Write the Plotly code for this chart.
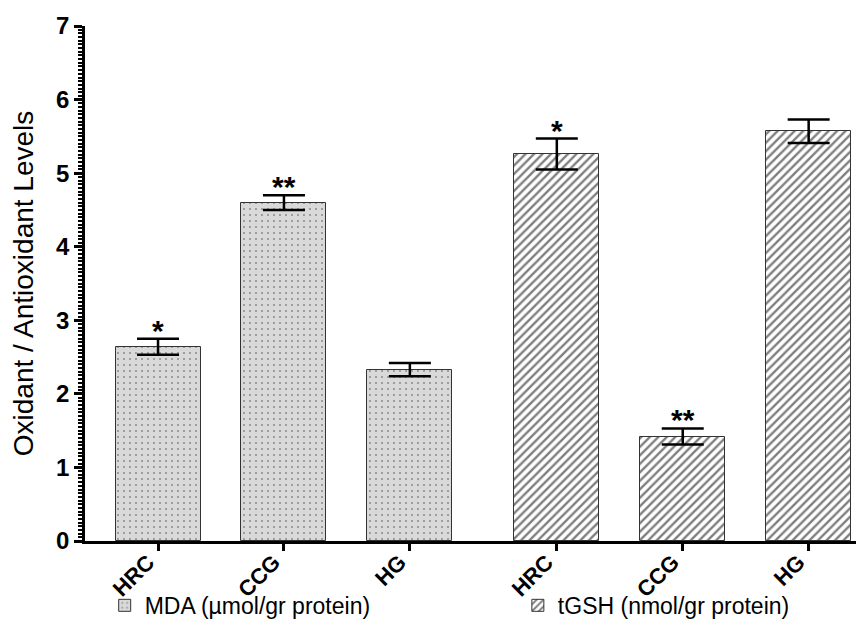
import plotly.graph_objects as go

groups = ["HRC", "CCG", "HG"]
mda_values = [2.64, 4.60, 2.33]
mda_errors = [0.11, 0.10, 0.09]
mda_marks = ["*", "**", ""]
tgsh_values = [5.26, 1.42, 5.57]
tgsh_errors = [0.21, 0.11, 0.16]
tgsh_marks = ["*", "**", ""]
mda_pos = [0, 1, 2]
tgsh_pos = [3.167, 4.167, 5.167]
y_ticks = [0, 1, 2, 3, 4, 5, 6, 7]

FONT = "Arial, Liberation Sans, Helvetica, sans-serif"

fig = go.Figure()
fig.add_trace(go.Bar(
    x=mda_pos, y=mda_values, width=0.675,
    name="MDA (µmol/gr protein)", legend="legend",
    marker=dict(color="#d9d9d9",
                line=dict(color="#333333", width=1),
                pattern=dict(shape=".", fgcolor="#444444", bgcolor="#d9d9d9",
                             size=6, solidity=0.1, fillmode="overlay")),
    error_y=dict(type="data", array=mda_errors, visible=True,
                 color="black", thickness=2.5, width=21),
))
fig.add_trace(go.Bar(
    x=tgsh_pos, y=tgsh_values, width=0.675,
    name="tGSH (nmol/gr protein)", legend="legend2",
    marker=dict(color="white",
                line=dict(color="#333333", width=1),
                pattern=dict(shape="/", fgcolor="black", bgcolor="white",
                             size=6, solidity=0.4, fillmode="overlay")),
    error_y=dict(type="data", array=tgsh_errors, visible=True,
                 color="black", thickness=2.5, width=21),
))

annotations = []
for pos, v, e, m in list(zip(mda_pos, mda_values, mda_errors, mda_marks)) + \
        list(zip(tgsh_pos, tgsh_values, tgsh_errors, tgsh_marks)):
    if m:
        annotations.append(dict(x=pos, y=v + e, text="<b>%s</b>" % m, showarrow=False,
                                xref="x", yref="y", yanchor="bottom", yshift=-10,
                                font=dict(family=FONT, size=30, color="black")))

legend_common = dict(orientation="h", y=-0.125, xanchor="left", yanchor="middle",
                     font=dict(family=FONT, size=23, color="black"),
                     bgcolor="rgba(0,0,0,0)")
fig.update_layout(
    width=864, height=629,
    paper_bgcolor="white", plot_bgcolor="white",
    margin=dict(l=77, r=0, t=18, b=96),
    font=dict(family=FONT, color="black"),
    showlegend=True,
    legend=dict(x=0.025, **legend_common),
    legend2=dict(x=0.55, **legend_common),
    annotations=annotations,
    bargap=0,
)
fig.update_xaxes(
    range=[-0.58, 5.67],
    tickmode="array", tickvals=mda_pos + tgsh_pos,
    ticktext=["<b>%s</b>" % g for g in groups + groups],
    tickangle=-45, tickfont=dict(family=FONT, size=22, color="black"),
    ticklabelstandoff=-10, ticklabelshift=-10,
    showline=True, linecolor="black", linewidth=2.5,
    ticks="outside", ticklen=7, tickwidth=2.5, tickcolor="black",
    showgrid=False, zeroline=False, automargin=False,
)
fig.update_yaxes(
    range=[0, 7],
    tickmode="array", tickvals=y_ticks,
    ticktext=["<b>%d</b>" % t for t in y_ticks],
    tickfont=dict(family=FONT, size=24, color="black"),
    title=dict(text="Oxidant / Antioxidant Levels",
               font=dict(family=FONT, size=28, color="black"), standoff=16),
    showline=True, linecolor="black", linewidth=2.5,
    ticks="outside", ticklen=8, tickwidth=2.5, tickcolor="black",
    minor=dict(dtick=0.05, ticks="outside", ticklen=4, tickwidth=1.5, tickcolor="black", showgrid=False),
    showgrid=False, zeroline=False, automargin=False,
)

fig.write_html("out.html")
